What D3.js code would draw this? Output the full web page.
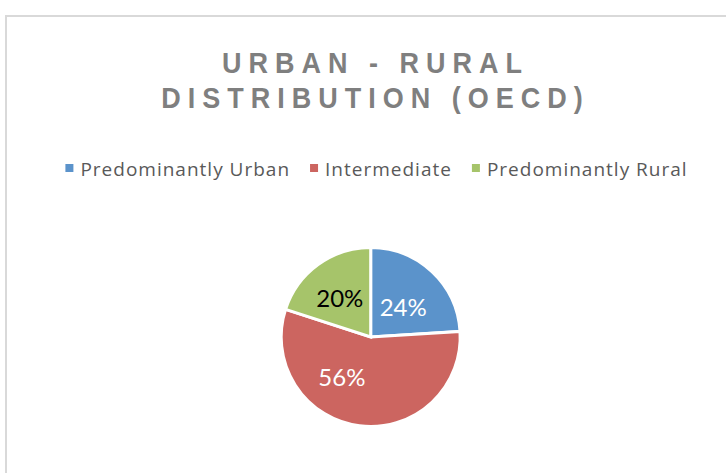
<!DOCTYPE html>
<html>
<head>
<meta charset="utf-8">
<script src="https://cdn.jsdelivr.net/npm/d3@7/dist/d3.min.js"></script>
<style>
  html, body { margin: 0; padding: 0; background: #ffffff; }
  svg { display: block; }
</style>
</head>
<body>
<svg id="chart" width="726" height="473"></svg>
<script>
// Urban - rural distribution of regions (OECD typology)
const categories = ["Predominantly Urban", "Intermediate", "Predominantly Rural"];
const shares = [24, 56, 20];
const sliceColors = ["#5b93cb", "#cc6560", "#a6c46a"];
const labelColors = ["#ffffff", "#ffffff", "#000000"];
const titleLines = ["URBAN - RURAL", "DISTRIBUTION (OECD)"];

const svg = d3.select("#chart");

// chart area frame (top and left edges visible)
svg.append("rect")
  .attr("x", 6).attr("y", 16)
  .attr("width", 900).attr("height", 700)
  .attr("fill", "none")
  .attr("stroke", "#d9d9d9")
  .attr("stroke-width", 2);

// title: condensed bold caps with wide tracking
const titleSpacing = 7.8;
svg.append("g")
  .attr("transform", "translate(372,0) scale(0.9,1)")
  .selectAll("text")
  .data(titleLines)
  .join("text")
  .attr("x", titleSpacing / 2)
  .attr("y", (d, i) => 73.5 + i * 35)
  .attr("text-anchor", "middle")
  .attr("font-family", "'Liberation Sans', Arial, sans-serif")
  .attr("font-weight", "bold")
  .attr("font-size", 30)
  .attr("letter-spacing", titleSpacing + "px")
  .attr("fill", "#7f7f7f")
  .text(d => d);

// legend
const legendFont = "'Open Sans', sans-serif";
const legend = svg.append("g");
const items = legend.selectAll("g")
  .data(categories)
  .join("g");
items.append("rect")
  .attr("width", 8).attr("height", 8)
  .attr("y", 164)
  .attr("fill", (d, i) => sliceColors[i]);
const legendText = items.append("text")
  .attr("y", 175.5)
  .attr("font-family", legendFont)
  .attr("font-size", 19)
  .attr("letter-spacing", "1px")
  .attr("fill", "#595959")
  .text(d => d);
// lay out items left to right from their measured widths, centred
const widths = legendText.nodes().map(n => n.getComputedTextLength());
const swatchGap = 15, itemGap = 20;
const total = d3.sum(widths) + categories.length * swatchGap + (categories.length - 1) * itemGap;
let xPos = 376.5 - total / 2;
items.each(function (d, i) {
  d3.select(this).attr("transform", `translate(${xPos},0)`);
  d3.select(this).select("text").attr("x", swatchGap);
  xPos += swatchGap + widths[i] + itemGap;
});

// pie
const pcx = 370.7, pcy = 337, R = 89.5;
const pie = d3.pie().sort(null).value(d => d);
const arcs = pie(shares);
const arc = d3.arc().innerRadius(0).outerRadius(R);
const g = svg.append("g").attr("transform", `translate(${pcx},${pcy})`);
g.selectAll("path")
  .data(arcs)
  .join("path")
  .attr("d", arc)
  .attr("fill", (d, i) => sliceColors[i])
  .attr("stroke", "#ffffff")
  .attr("stroke-width", 3)
  .attr("stroke-linejoin", "miter");

// data labels: best-fit placement inside each slice
const labelRadius = [0.49, 0.55, 0.55];
const labelTurn = [0.08, 0.5, -0.05]; // radians, nudges label off the slice bisector
g.selectAll("text")
  .data(arcs)
  .join("text")
  .attr("transform", (d, i) => {
    const a = (d.startAngle + d.endAngle) / 2 + labelTurn[i];
    const r = R * labelRadius[i];
    return `translate(${Math.sin(a) * r},${-Math.cos(a) * r})`;
  })
  .attr("text-anchor", "middle")
  .attr("dy", "0.36em")
  .attr("font-family", "Lato, 'Open Sans', sans-serif")
  .attr("font-size", 24)
  .attr("fill", (d, i) => labelColors[i])
  .text(d => d.data + "%");
</script>
</body>
</html>
